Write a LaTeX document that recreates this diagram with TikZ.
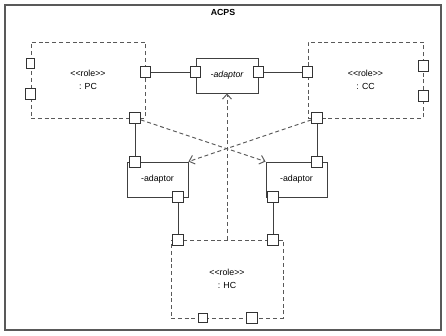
\documentclass[tikz,border=0pt]{standalone}
\usepackage{fontspec}
\setmainfont{Liberation Sans}
\usetikzlibrary{arrows.meta, positioning}

\begin{document}
\begin{tikzpicture}[
        x=1pt, y=-1pt,
        font=\fontsize{8.8}{13.5}\selectfont,
        % This defines the style of the role parts
        role/.style={rectangle, draw=black!65, dash pattern=on 4pt off 2.8pt, line width=0.95pt, align=center, inner sep=0pt},
        % This defines the style of the adaptor parts
        adaptor/.style={rectangle, draw=black!75, line width=0.9pt, minimum width=61pt, minimum height=35pt, inner sep=0pt},
        % the small squares on the borders
        port/.style={rectangle, draw=black!80, fill=white, line width=0.9pt, minimum size=10.5pt, inner sep=0pt},
        smallport/.style={port, minimum width=8pt, minimum height=10pt},
        % connectors
        wire/.style={draw=black!75, line width=0.9pt},
        dep/.style={draw=black!65, dash pattern=on 4pt off 2.8pt, line width=0.95pt, -{Straight Barb[length=5pt, width=9pt]}}
    ]

    \useasboundingbox (0,0) rectangle (446,336);

    % --- THE FRAME ---
    \node (frame) [rectangle, draw=black!65, line width=1.4pt, minimum width=436pt, minimum height=325pt, inner sep=0pt] at (223,167.5) {};
    \draw [draw=black!65, line width=1pt] (frame.north west) ++(0,-15) -- ++(436,0);
    \node (title) at (223,12.8) {\bfseries ACPS};

    % --- THE ROLES ---
    \node (pc) [role, minimum width=114pt, minimum height=76pt] at (88,80) {<{}<role>{}>\\: PC};
    \node (cc) [role, minimum width=115pt, minimum height=76pt] at (365.5,80) {<{}<role>{}>\\: CC};
    \node (hc) [role, minimum width=112pt, minimum height=78pt] at (227,279) {<{}<role>{}>\\: HC};

    % --- THE ADAPTORS ---
    \node (ad) [adaptor, minimum width=62pt] at (227,75.5) {\itshape -adaptor};
    \node (la) [adaptor] at (157.5,179.5) {-adaptor};
    \node (ra) [adaptor] at (296.5,179.5) {-adaptor};

    % --- THE PORTS ---
    \node (pcL1) [smallport] at (pc.west |- 0,63) {};
    \node (pcL2) [port] at (pc.west |- 0,94) {};
    \node (pcR) [port] at (pc.east |- 0,72) {};
    \node (pcB) [port] at (135,118) {};
    \node (ccL) [port] at (cc.west |- 0,72) {};
    \node (ccR1) [port] at (cc.east |- 0,66) {};
    \node (ccR2) [port] at (cc.east |- 0,96) {};
    \node (ccB) [port] at (317,118) {};
    \node (adL) [port] at (ad.west |- 0,72) {};
    \node (adR) [port] at (ad.east |- 0,72) {};
    \node (laT) [port] at (135,162) {};
    \node (laB) [port] at (178,197) {};
    \node (raT) [port] at (317,162) {};
    \node (raB) [port] at (273,197) {};
    \node (hcTL) [port] at (178,240) {};
    \node (hcTR) [port] at (273,240) {};
    \node (hcB1) [smallport, minimum width=9pt, minimum height=9pt] at (203,318) {};
    \node (hcB2) [port, minimum size=11.5pt] at (252,318) {};

    % --- THE CONNECTORS ---
    \draw [wire] (pcR) -- (adL);
    \draw [wire] (adR) -- (ccL);
    \draw [wire] (pcB) -- (laT);
    \draw [wire] (ccB) -- (raT);
    \draw [wire] (laB) -- (hcTL);
    \draw [wire] (raB) -- (hcTR);

    % --- THE DASHED ARROWS ---
    \draw [dep] (pcB) -- (ra.north west);
    \draw [dep] (ccB) -- (la.north east);
    \draw [dep] (hc) -- (ad);

\end{tikzpicture}
\end{document}
